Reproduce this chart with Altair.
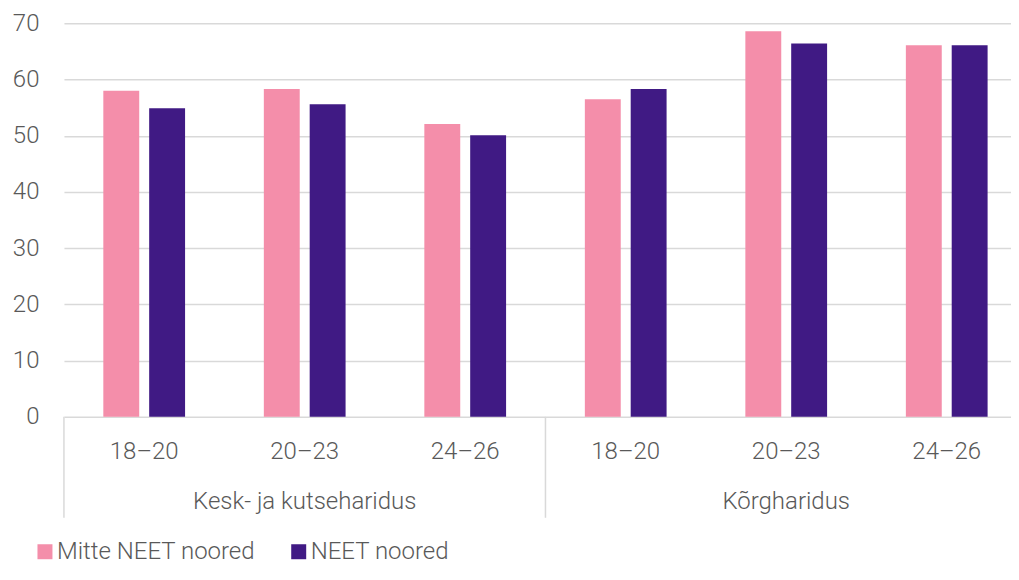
import altair as alt
import pandas as pd

groups = ["Kesk- ja kutseharidus", "Kõrgharidus"]
ages = ["18–20", "20–23", "24–26"]
series = ["Mitte NEET noored", "NEET noored"]
mitte_neet = [58.0, 58.3, 52.1, 56.5, 68.6, 66.1]
neet = [54.9, 55.6, 50.1, 58.3, 66.4, 66.1]
colors = ["#F48EAA", "#401A84"]

keys = [f"{g}|{a}" for g in groups for a in ages]

rows = []
for i, k in enumerate(keys):
    rows.append({"key": k, "series": series[0], "value": mitte_neet[i]})
    rows.append({"key": k, "series": series[1], "value": neet[i]})
df = pd.DataFrame(rows)

W, H = 948, 394
FONT = "Roboto"
FS = 24
TXT = "#595959"
GRID = "#D9D9D9"

xscale = alt.Scale(domain=keys, range=[0, 964], paddingInner=0, paddingOuter=0)

bars = alt.Chart(df).mark_bar().encode(
    x=alt.X("key:N", scale=xscale, title=None,
            axis=alt.Axis(labelExpr="split(datum.value, '|')[1]", labelAngle=0,
                          ticks=False, tickSize=0, domain=False,
                          labelFont=FONT, labelFontSize=FS, labelFontWeight=300,
                          labelColor=TXT, labelPadding=35, labelBaseline="middle")),
    xOffset=alt.XOffset("series:N", sort=series,
                        scale=alt.Scale(domain=series, paddingInner=0.217, paddingOuter=0.859)),
    y=alt.Y("value:Q", scale=alt.Scale(domain=[0, 70], nice=False), title=None,
            axis=alt.Axis(values=[0, 10, 20, 30, 40, 50, 60, 70], ticks=False, domain=False,
                          grid=True, gridColor=GRID, gridWidth=1.5,
                          labelFont=FONT, labelFontSize=FS, labelFontWeight=300,
                          labelColor=TXT, labelPadding=25)),
    color=alt.Color("series:N", sort=series,
                    scale=alt.Scale(domain=series, range=colors),
                    legend=alt.Legend(title=None, orient="none", direction="horizontal",
                                      legendX=-31, legendY=517, padding=0,
                                      symbolType="square",
                                      symbolSize=225, symbolStrokeWidth=0, symbolOpacity=1,
                                      labelFont=FONT, labelFontSize=FS, labelFontWeight=300,
                                      labelColor=TXT, labelOffset=0, labelLimit=0,
                                      columnPadding=31)),
)

sep_df = pd.DataFrame({"key": [f"{g}|{ages[0]}" for g in groups]})
seps = alt.Chart(sep_df).mark_rule(color=GRID, strokeWidth=1.5).encode(
    x=alt.X("key:N", scale=xscale, title=None, bandPosition=0),
    y=alt.value(H),
    y2=alt.value(H + 101),
)

glab_df = pd.DataFrame({"key": [f"{g}|{ages[1]}" for g in groups], "label": groups})
glabs = alt.Chart(glab_df).mark_text(font=FONT, fontSize=FS, fontWeight=300, color=TXT,
                                     baseline="middle", align="center").encode(
    x=alt.X("key:N", scale=xscale, title=None),
    y=alt.value(H + 85),
    text="label:N",
)

chart = alt.layer(bars, seps, glabs).properties(
    width=W, height=H,
    autosize=alt.AutoSizeParams(type="none"),
    padding={"left": 56, "top": 15, "right": 0, "bottom": 153},
).configure_view(stroke=None)

chart.save("out.html", embed_options={"renderer": "svg", "actions": False})
